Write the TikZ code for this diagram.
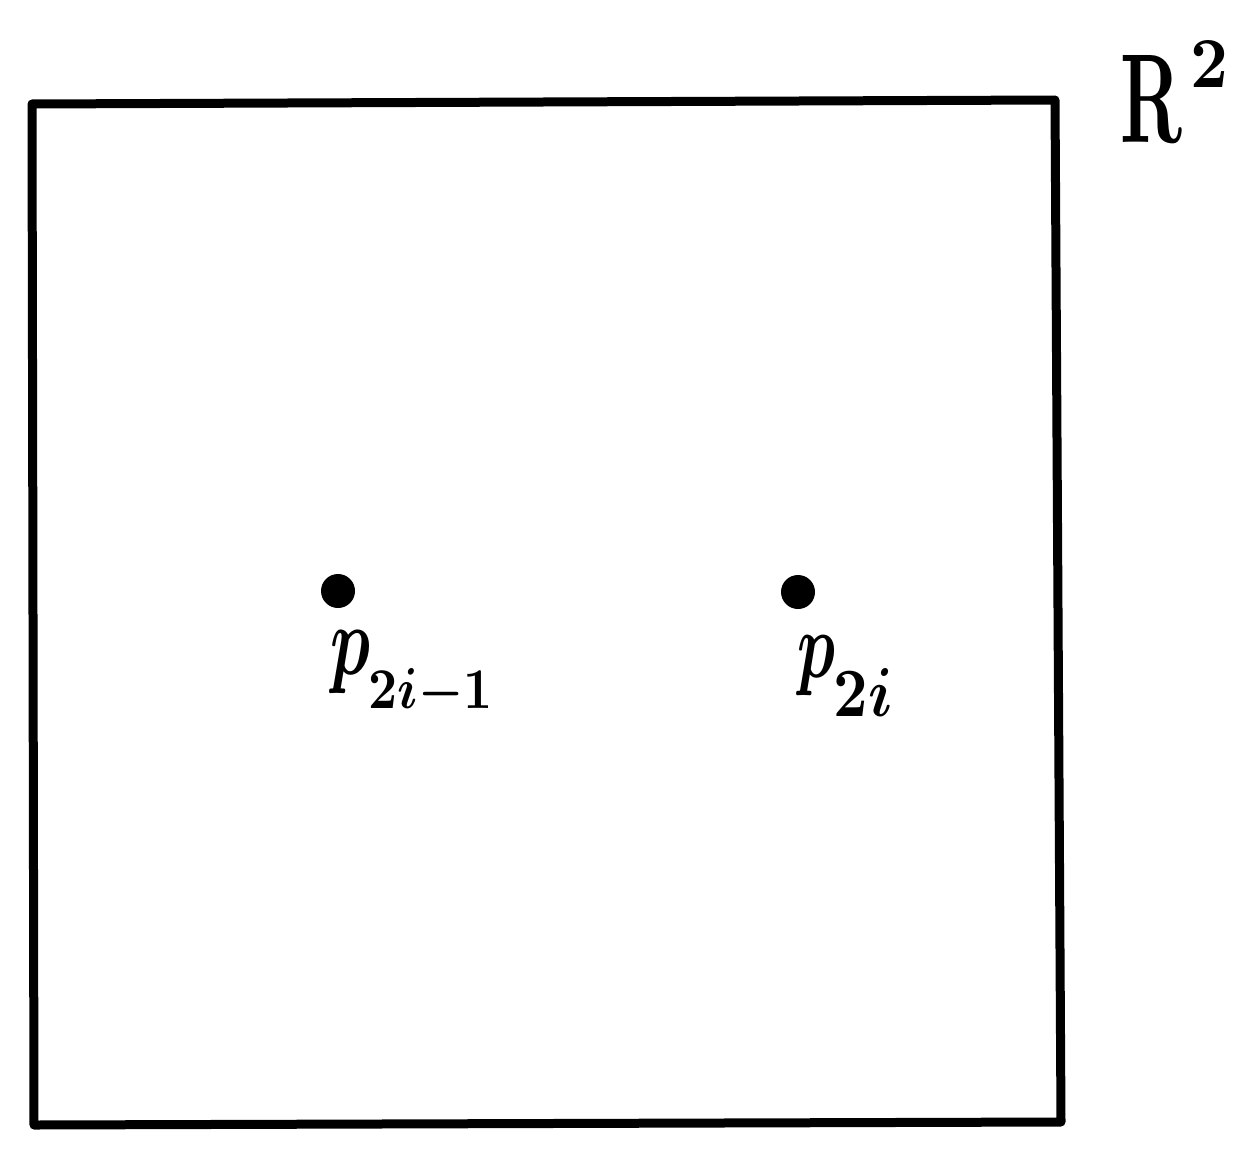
\documentclass[tikz,border=0pt]{standalone}
\usepackage{graphicx}
\usepackage{amsmath}
\usepackage{bm}
\begin{document}
\begin{tikzpicture}[x=0.5pt,y=-0.5pt,
  frame/.style={line width=4.5pt,line join=round,line cap=round},
  pt/.style={circle,fill=black,inner sep=0pt,minimum size=17pt},
  lab/.style={inner sep=0pt,anchor=base west}]
\useasboundingbox (0,0) rectangle (1246,1156);
\coordinate (tl) at (32,104);
\coordinate (tr) at (1055,100);
\coordinate (br) at (1061,1122);
\coordinate (bl) at (34,1125);
\draw[frame] (tl) -- (tr) -- (br) -- (bl) -- cycle;
\node[pt] (p1) at (338,591) {};
\node[pt] (p2) at (798,592) {};
\node[lab] (l1) at (330,674) {\resizebox*{20pt}{31.5pt}{$\bm{p}$}\kern-1pt\raisebox{-17pt}{\resizebox{62pt}{20pt}{$\bm{2i{-}1}$}}};
\node[lab] (l2) at (797,677) {\resizebox*{19pt}{30pt}{$\bm{p}$}\kern-1pt\raisebox{-19.5pt}{\resizebox{29.5pt}{24pt}{$\bm{2i}$}}};
\node[lab] (r2) at (1120,142) {\resizebox{31pt}{43.5pt}{\textbf{R}}\kern4pt\raisebox{27.5pt}{\resizebox{19pt}{23.5pt}{\textbf{2}}}};
\end{tikzpicture}
\end{document}
